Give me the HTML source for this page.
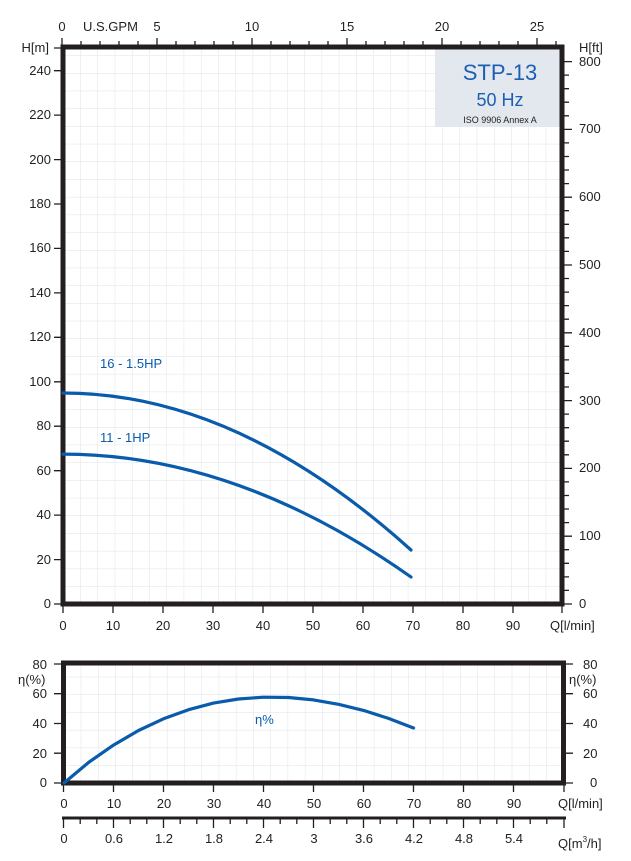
<!DOCTYPE html>
<html><head><meta charset="utf-8"><style>
html,body{margin:0;padding:0;background:#fff}
svg{display:block;font-family:"Liberation Sans",sans-serif}
</style></head><body>
<svg width="631" height="861" viewBox="0 0 631 861" xmlns="http://www.w3.org/2000/svg">
<defs>
<pattern id="g1" x="63" y="604" width="17.24" height="17.7" patternUnits="userSpaceOnUse">
<path d="M0 0V17.7M0 0H17.24" stroke="#dde3ea" stroke-width="1" fill="none"/>
</pattern>
<pattern id="g2" x="63.5" y="783" width="17.24" height="17.7" patternUnits="userSpaceOnUse">
<path d="M0 0V17.7M0 0H17.24" stroke="#dde3ea" stroke-width="1" fill="none"/>
</pattern>
</defs>
<rect x="63" y="48" width="499" height="556" fill="url(#g1)"/>
<rect x="435" y="48" width="125" height="79" fill="#e3e8ee"/>
<text x="500" y="80" font-size="22" fill="#1d5fb5" text-anchor="middle">STP-13</text>
<text x="500" y="106" font-size="18" fill="#1d5fb5" text-anchor="middle">50 Hz</text>
<text x="500" y="123" font-size="9" fill="#222" text-anchor="middle">ISO 9906 Annex A</text>
<rect x="63" y="47" width="499" height="557" fill="none" stroke="#231f20" stroke-width="5"/>
<g stroke="#231f20" stroke-width="1.3">
<path d="M54 604H61M54 559.6H61M54 515.1H61M54 470.7H61M54 426.2H61M54 381.8H61M54 337.3H61M54 292.9H61M54 248.4H61M54 204H61M54 159.6H61M54 115.1H61M54 70.7H61M54 48H61"/>
<path d="M63 606V613M113 606V613M163 606V613M213 606V613M263 606V613M313 606V613M363 606V613M413 606V613M463 606V613M513 606V613M562 606V613"/>
<path d="M564 604H572M564 536.2H572M564 468.4H572M564 400.6H572M564 332.8H572M564 265H572M564 197.2H572M564 129.4H572M564 61.6H572"/>
<path d="M564 590.4H569M564 576.9H569M564 563.3H569M564 549.7H569M564 522.6H569M564 509H569M564 495.5H569M564 481.9H569M564 454.8H569M564 441.2H569M564 427.7H569M564 414.1H569M564 387H569M564 373.4H569M564 359.9H569M564 346.3H569M564 319.2H569M564 305.6H569M564 292.1H569M564 278.5H569M564 251.4H569M564 237.8H569M564 224.3H569M564 210.7H569M564 183.6H569M564 170H569M564 156.5H569M564 142.9H569M564 115.8H569M564 102.2H569M564 88.7H569M564 75.1H569"/>
<path d="M62 45V38M157 45V38M252 45V38M347 45V38M442 45V38M537 45V38"/>
<path d="M81 45V41M100 45V41M119 45V41M138 45V41M176 45V41M195 45V41M214 45V41M233 45V41M271 45V41M290 45V41M309 45V41M328 45V41M366 45V41M385 45V41M404 45V41M423 45V41M461 45V41M480 45V41M499 45V41M518 45V41M556 45V41"/>
</g>
<g font-size="13" fill="#231f20" text-anchor="end">
<text x="51" y="608">0</text><text x="51" y="564">20</text><text x="51" y="519">40</text><text x="51" y="475">60</text><text x="51" y="430">80</text><text x="51" y="386">100</text><text x="51" y="341">120</text><text x="51" y="297">140</text><text x="51" y="252">160</text><text x="51" y="208">180</text><text x="51" y="164">200</text><text x="51" y="119">220</text><text x="51" y="75">240</text><text x="49" y="52">H[m]</text>
</g>
<g font-size="13" fill="#231f20" text-anchor="start">
<text x="579" y="608">0</text><text x="579" y="540">100</text><text x="579" y="472">200</text><text x="579" y="405">300</text><text x="579" y="337">400</text><text x="579" y="269">500</text><text x="579" y="201">600</text><text x="579" y="133">700</text><text x="579" y="66">800</text><text x="579" y="52">H[ft]</text>
</g>
<g font-size="13" fill="#231f20" text-anchor="middle">
<text x="63" y="630">0</text><text x="113" y="630">10</text><text x="163" y="630">20</text><text x="213" y="630">30</text><text x="263" y="630">40</text><text x="313" y="630">50</text><text x="363" y="630">60</text><text x="413" y="630">70</text><text x="463" y="630">80</text><text x="513" y="630">90</text>
<text x="62" y="31">0</text><text x="157" y="31">5</text><text x="252" y="31">10</text><text x="347" y="31">15</text><text x="442" y="31">20</text><text x="537" y="31">25</text>
</g>
<text x="83" y="31" font-size="13" fill="#231f20">U.S.GPM</text>
<text x="550" y="630" font-size="13" fill="#231f20">Q[l/min]</text>
<g fill="none" stroke="#0a5bab" stroke-width="3.2" stroke-linecap="round" stroke-linejoin="round">
<path d="M63 393Q237 393 411 550"/>
<path d="M63 454.1Q237 454.1 411 577"/>
</g>
<text x="100" y="368" font-size="13" fill="#0a5bab">16 - 1.5HP</text>
<text x="100" y="442" font-size="13" fill="#0a5bab">11 - 1HP</text>

<rect x="63.5" y="664" width="500" height="119" fill="url(#g2)"/>
<rect x="63.5" y="663" width="500" height="120" fill="none" stroke="#231f20" stroke-width="5"/>
<g stroke="#231f20" stroke-width="1.3">
<path d="M54 664H61M54 693.7H61M54 723.5H61M54 753.2H61M54 783H61"/>
<path d="M566 664H573M566 693.7H573M566 723.5H573M566 753.2H573M566 783H573"/>
<path d="M63.5 785V792M113.5 785V792M163.5 785V792M213.5 785V792M263.5 785V792M313.5 785V792M363.5 785V792M413.5 785V792M463.5 785V792M513.5 785V792M564 785V792"/>
<path d="M63.5 818V828M113.5 818V828M163.5 818V828M213.5 818V828M263.5 818V828M313.5 818V828M363.5 818V828M413.5 818V828M463.5 818V828M513.5 818V828M564 818V828"/>
<path d="M80.2 818V824M96.8 818V824M130.2 818V824M146.8 818V824M180.2 818V824M196.8 818V824M230.2 818V824M246.8 818V824M280.2 818V824M296.8 818V824M330.2 818V824M346.8 818V824M380.2 818V824M396.8 818V824M430.2 818V824M446.8 818V824M480.2 818V824M496.8 818V824M530.2 818V824M546.8 818V824"/>
</g>
<line x1="62" y1="818" x2="566" y2="818" stroke="#231f20" stroke-width="3"/>
<g font-size="13" fill="#231f20" text-anchor="end">
<text x="47" y="669">80</text><text x="47" y="698">60</text><text x="47" y="728">40</text><text x="47" y="758">20</text><text x="47" y="787">0</text>
</g>
<text x="18" y="684" font-size="13" fill="#231f20">η(%)</text>
<g font-size="13" fill="#231f20" text-anchor="start">
<text x="583" y="669">80</text><text x="583" y="698">60</text><text x="583" y="728">40</text><text x="583" y="758">20</text><text x="590" y="787">0</text>
</g>
<text x="569" y="684" font-size="13" fill="#231f20">η(%)</text>
<g font-size="13" fill="#231f20" text-anchor="middle">
<text x="64" y="808">0</text><text x="114" y="808">10</text><text x="164" y="808">20</text><text x="214" y="808">30</text><text x="264" y="808">40</text><text x="314" y="808">50</text><text x="364" y="808">60</text><text x="414" y="808">70</text><text x="464" y="808">80</text><text x="514" y="808">90</text>
<text x="64" y="843">0</text><text x="114" y="843">0.6</text><text x="164" y="843">1.2</text><text x="214" y="843">1.8</text><text x="264" y="843">2.4</text><text x="314" y="843">3</text><text x="364" y="843">3.6</text><text x="414" y="843">4.2</text><text x="464" y="843">4.8</text><text x="514" y="843">5.4</text>
</g>
<text x="558" y="808" font-size="13" fill="#231f20">Q[l/min]</text>
<text x="558" y="848" font-size="13" fill="#231f20">Q[m<tspan font-size="8" dy="-6">3</tspan><tspan dy="6">/h]</tspan></text>
<polyline points="64,783 88.5,762.5 113.5,745.1 138.5,730.5 163.5,718.8 188.5,709.7 213.5,703.1 238.5,699 263.5,697.2 288.5,697.5 313.5,699.9 338.5,704.3 363.5,710.4 388.5,718.4 413.5,728" fill="none" stroke="#0a5bab" stroke-width="3.2" stroke-linecap="round" stroke-linejoin="round"/>
<text x="255" y="724" font-size="13" fill="#0a5bab">η%</text>
</svg>
</body></html>
